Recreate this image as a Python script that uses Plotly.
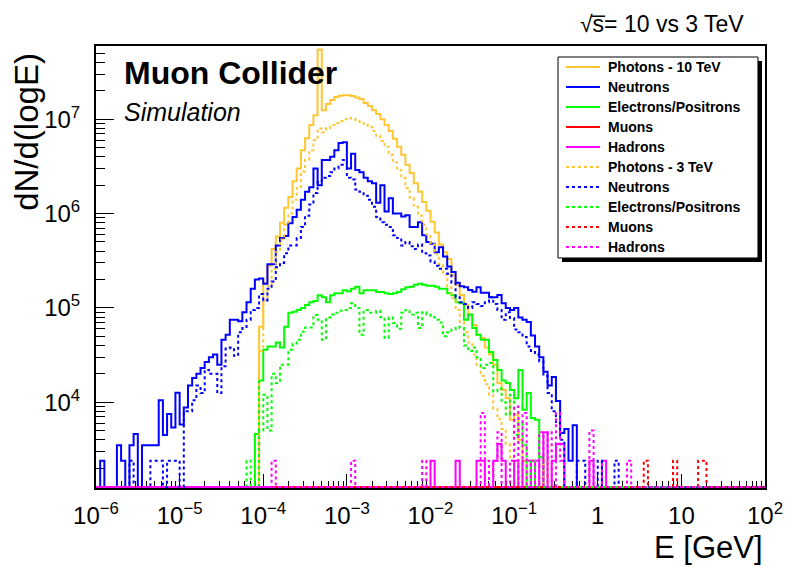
import numpy as np
import plotly.graph_objects as go

# histogram binning: 20 bins per decade, 1e-6 .. 1e2 GeV
N_BINS = 160
edges = np.logspace(-6, 2, N_BINS + 1)

# ---- 10 TeV (solid) ----
photons_10_first = 39
photons_10 = [6.3e4, 1.85e5, 2.8e5, 4.2e5, 5.7e5, 8.0e5, 1.15e6, 1.5e6, 2.2e6, 3.0e6,
              4.7e6, 6.3e6, 8.7e6, 1.1e7, 5.5e7, 1.25e7, 1.45e7, 1.6e7, 1.72e7, 1.78e7,
              1.8e7, 1.8e7, 1.76e7, 1.7e7, 1.64e7, 1.49e7, 1.38e7, 1.25e7, 1.14e7, 1.0e7,
              8.7e6, 7.5e6, 6.2e6, 5.1e6, 4.2e6, 3.3e6, 2.7e6, 2.1e6, 1.7e6, 1.33e6,
              1.07e6, 8.2e5, 6.3e5, 4.7e5, 3.9e5, 3.3e5, 2.2e5, 1.75e5, 1.37e5, 1.08e5,
              8.5e4, 6.6e4, 5.2e4, 4.8e4, 3.8e4, 3.2e4, 2.5e4, 1.6e4, 1.35e4, 1.1e4,
              6.5e3, 7.4e3, 4.0e3, 2.4e3, 0, 2.4e3]

neutrons_10_first = 1
neutrons_10 = [2.4e3, 0, 0, 0, 3.5e3, 2.4e3, 0, 3.5e3, 4.6e3, 0,
               3.5e3, 3.5e3, 3.5e3, 3.5e3, 1.05e4, 4.5e3, 7.5e3, 5.4e3, 1.26e4, 5.8e3,
               8.8e3, 1.5e4, 1.8e4, 2.0e4, 2.3e4, 2.66e4, 3.0e4, 3.2e4, 2.5e4, 4.6e4,
               5.2e4, 7.5e4, 7.5e4, 7.2e4, 9.0e4, 1.15e5, 1.6e5, 2.0e5, 2.05e5, 1.8e5,
               2.9e5, 2.9e5, 4.6e5, 5.5e5, 5.8e5, 7.9e5, 9.2e5, 1.1e6, 1.4e6, 1.7e6,
               1.9e6, 3.0e6, 2.0e6, 3.7e6, 3.7e6, 4.0e6, 4.7e6, 5.6e6, 5.7e6, 3.0e6,
               4.3e6, 2.9e6, 2.75e6, 2.4e6, 2.2e6, 2.1e6, 1.3e6, 2.0e6, 1.05e6, 1.45e6,
               1.0e6, 1.0e6, 9.3e5, 9.6e5, 7.2e5, 7.2e5, 8.1e5, 5.9e5, 5.0e5, 4.8e5,
               3.9e5, 4.4e5, 3.5e5, 2.75e5, 2.4e5, 1.85e5, 1.7e5, 1.65e5, 1.55e5, 1.48e5,
               1.65e5, 1.45e5, 1.45e5, 1.3e5, 1.3e5, 1.37e5, 1.12e5, 1.0e5, 9.5e4, 1.0e5,
               7.9e4, 7.5e4, 7.1e4, 5.1e4, 3.9e4, 3.0e4, 2.1e4, 1.5e4, 1.85e4, 1.03e4,
               4.7e3, 5.2e3, 2.4e3, 5.7e3]

electrons_10_first = 38
electrons_10 = [4.6e3, 1.7e4, 3.6e4, 3.9e4, 3.9e4, 4.3e4, 3.8e4, 6.3e4, 8.9e4, 9.1e4,
                9.5e4, 1.0e5, 1.07e5, 1.15e5, 1.18e5, 1.36e5, 1.3e5, 1.15e5, 1.36e5, 1.43e5,
                1.43e5, 1.54e5, 1.5e5, 1.6e5, 1.68e5, 1.43e5, 1.54e5, 1.54e5, 1.54e5, 1.47e5,
                1.47e5, 1.43e5, 1.4e5, 1.43e5, 1.47e5, 1.58e5, 1.65e5, 1.68e5, 1.76e5, 1.8e5,
                1.76e5, 1.72e5, 1.72e5, 1.68e5, 1.6e5, 1.6e5, 1.43e5, 1.36e5, 1.15e5, 1.12e5,
                7.5e4, 8.5e4, 6.1e4, 5.2e4, 4.6e4, 4.6e4, 3.4e4, 2.8e4, 2.2e4, 1.7e4,
                1.6e4, 1.35e4, 1.1e4, 2.2e4, 8.3e3, 1.25e4, 6.8e3, 6.5e3, 2.6e3]

muons_10_bins = []
muons_10_counts = []

hadrons_10_bins = [80, 86, 91, 92, 95, 96, 97, 100, 102, 103, 105, 107, 109, 110, 111, 118, 121]
hadrons_10_counts = [2.4e3, 2.4e3, 2.4e3, 2.4e3, 2.4e3, 3.6e3, 2.4e3, 2.4e3, 2.4e3, 2.4e3,
                     2.4e3, 4.8e3, 2.4e3, 3.6e3, 3.6e3, 2.4e3, 2.4e3]

# ---- 3 TeV (dotted) ----
photons_3_first = 39
photons_3 = [3.5e4, 1.2e5, 1.7e5, 2.6e5, 3.9e5, 5.3e5, 7.6e5, 1.0e6, 1.4e6, 1.87e6,
             2.8e6, 3.7e6, 4.7e6, 6.0e6, 8.0e6, 7.3e6, 8.1e6, 8.7e6, 9.1e6, 9.6e6,
             1.0e7, 1.03e7, 1.02e7, 9.8e6, 9.4e6, 8.7e6, 8.3e6, 7.5e6, 6.7e6, 5.9e6,
             5.1e6, 4.2e6, 3.5e6, 2.9e6, 2.4e6, 1.87e6, 1.47e6, 1.18e6, 9.5e5, 7.6e5,
             6.0e5, 4.7e5, 3.7e5, 2.9e5, 2.25e5, 1.65e5, 1.27e5, 9.5e4, 7.1e4, 5.5e4,
             4.3e4, 3.2e4, 2.5e4, 1.9e4, 1.55e4, 1.2e4, 8.5e3, 6.6e3, 5.2e3, 3.6e3,
             2.4e3, 5.0e3, 0, 2.4e3, 0, 0, 0, 0, 2.4e3]

neutrons_3_first = 8
neutrons_3 = [2.4e3, 0, 0, 0, 0, 2.4e3, 2.4e3, 2.4e3, 0, 2.4e3,
              2.4e3, 2.4e3, 0, 8.0e3, 8.0e3, 1.05e4, 1.5e4, 1.25e4, 2.2e4, 2.0e4,
              2.0e4, 1.25e4, 2.4e4, 3.7e4, 3.8e4, 3.1e4, 5.5e4, 6.1e4, 7.5e4, 9.5e4,
              1.0e5, 1.4e5, 1.2e5, 1.6e5, 1.9e5, 2.7e5, 3.0e5, 3.8e5, 4.6e5, 4.6e5,
              5.5e5, 7.2e5, 9.5e5, 1.25e6, 1.65e6, 2.15e6, 2.4e6, 2.5e6, 2.75e6, 3.0e6,
              3.3e6, 3.7e6, 2.4e6, 2.3e6, 1.8e6, 1.7e6, 1.55e6, 1.4e6, 1.18e6, 9.2e5,
              8.1e5, 7.6e5, 7.2e5, 5.9e5, 5.5e5, 4.6e5, 5.0e5, 4.5e5, 4.2e5, 4.7e5,
              3.8e5, 3.6e5, 3.1e5, 2.8e5, 2.6e5, 2.6e5, 2.3e5, 1.85e5, 1.3e5, 1.15e5,
              1.1e5, 1.0e5, 1.15e5, 1.1e5, 1.05e5, 1.15e5, 1.3e5, 1.1e5, 9.5e4, 7.5e4,
              9.0e4, 7.8e4, 5.9e4, 5.5e4, 4.9e4, 3.9e4, 3.5e4, 3.2e4, 2.7e4, 1.9e4,
              1.25e4, 8.0e3, 6.0e3, 4.0e3, 0, 0, 0, 2.4e3, 2.4e3, 0,
              0, 0, 2.4e3, 0, 0, 0, 2.4e3]

electrons_3_first = 36
electrons_3 = [2.4e3, 0, 0, 5.0e3, 1.2e4, 5.0e3, 2.0e4, 1.6e4, 2.5e4, 2.5e4,
               3.6e4, 4.2e4, 4.6e4, 5.6e4, 6.2e4, 6.2e4, 8.4e4, 7.5e4, 4.6e4, 7.9e4,
               8.5e4, 8.9e4, 9.3e4, 9.5e4, 1.0e5, 1.12e5, 1.0e5, 5.2e4, 9.5e4, 8.9e4,
               8.9e4, 9.3e4, 8.0e4, 4.8e4, 7.9e4, 6.9e4, 6.0e4, 8.9e4, 9.5e4, 8.5e4,
               8.9e4, 6.1e4, 9.0e4, 8.5e4, 8.0e4, 7.5e4, 7.0e4, 5.0e4, 5.5e4, 5.9e4,
               6.3e4, 6.1e4, 4.0e4, 3.5e4, 3.8e4, 3.0e4, 2.3e4, 2.5e4, 2.6e4, 1.3e4,
               1.4e4, 1.0e4, 7.4e3, 1.2e4, 4.5e3, 6.0e3, 3.5e3, 0, 2.4e3]

muons_3_bins = [131, 138, 144, 145]
muons_3_counts = [2.4e3, 2.4e3, 2.4e3, 2.4e3]

hadrons_3_bins = [42, 61, 78, 92, 93, 95, 96, 99, 100, 102, 104, 106, 108, 110, 111, 118, 127]
hadrons_3_counts = [2.4e3, 2.4e3, 2.4e3, 7.7e3, 2.4e3, 2.4e3, 4.8e3, 2.4e3, 9.0e3, 7.7e3,
                    2.4e3, 4.8e3, 4.8e3, 7.7e3, 2.4e3, 5.0e3, 2.4e3]

Y_MIN_LOG = 3.09
Y_MAX_LOG = 7.777
FONT = "Liberation Sans, Arial, Helvetica, sans-serif"


def dense(first, counts):
    h = np.zeros(N_BINS)
    h[first:first + len(counts)] = counts
    return h


def sparse(bins, counts):
    h = np.zeros(N_BINS)
    h[list(bins)] = counts
    return h


series = [
    ("Photons - 10 TeV", dense(photons_10_first, photons_10), "#ffc633", "solid"),
    ("Neutrons", dense(neutrons_10_first, neutrons_10), "#0000ff", "solid"),
    ("Electrons/Positrons", dense(electrons_10_first, electrons_10), "#00ff00", "solid"),
    ("Muons", sparse(muons_10_bins, muons_10_counts), "#ff0000", "solid"),
    ("Hadrons", sparse(hadrons_10_bins, hadrons_10_counts), "#ff00ff", "solid"),
    ("Photons - 3 TeV", dense(photons_3_first, photons_3), "#ffc633", "dot"),
    ("Neutrons", dense(neutrons_3_first, neutrons_3), "#0000ff", "dot"),
    ("Electrons/Positrons", dense(electrons_3_first, electrons_3), "#00ff00", "dot"),
    ("Muons", sparse(muons_3_bins, muons_3_counts), "#ff0000", "dot"),
    ("Hadrons", sparse(hadrons_3_bins, hadrons_3_counts), "#ff00ff", "dot"),
]

# empty bins sit on the bottom edge of the frame, like ROOT draws them
floor = 10 ** (Y_MIN_LOG + 0.01)
fig = go.Figure()
for name, h, color, dash in series:
    y = np.where(h > 0, h, floor)
    fig.add_trace(go.Scatter(
        x=edges, y=np.append(y, y[-1]), name=name, mode="lines", showlegend=False,
        line=dict(color=color, width=2, dash=dash, shape="hv"),
    ))

x_ticks = [10.0 ** e for e in range(-6, 3)]
x_text = ["10<sup>\u22126</sup>", "10<sup>\u22125</sup>", "10<sup>\u22124</sup>", "10<sup>\u22123</sup>",
          "10<sup>\u22122</sup>", "10<sup>\u22121</sup>", "1", "10", "10<sup>2</sup>"]
y_ticks = [1e4, 1e5, 1e6, 1e7]
y_text = ["10<sup>4</sup>", "10<sup>5</sup>", "10<sup>6</sup>", "10<sup>7</sup>"]
x_minor = [k * 10.0 ** e for e in range(-6, 2) for k in range(2, 10)]
y_minor = [k * 10.0 ** e for e in range(3, 8) for k in range(2, 10)]

axis_common = dict(showgrid=False, zeroline=False, showline=True, linecolor="black", linewidth=2,
                   mirror=True, ticks="inside", tickcolor="black", tickwidth=1,
                   tickfont=dict(family=FONT, size=24, color="black"), layer="below traces")

fig.update_xaxes(type="log", range=[-6, 2], tickmode="array", tickvals=x_ticks, ticktext=x_text,
                 ticklen=14, ticklabelstandoff=5,
                 minor=dict(ticks="inside", ticklen=7, tickcolor="black", tickwidth=1,
                            tickmode="array", tickvals=x_minor),
                 **axis_common)
fig.update_yaxes(type="log", range=[Y_MIN_LOG, Y_MAX_LOG], tickmode="array", tickvals=y_ticks,
                 ticktext=y_text, ticklen=18, ticklabelstandoff=9,
                 minor=dict(ticks="inside", ticklen=9, tickcolor="black", tickwidth=1,
                            tickmode="array", tickvals=y_minor),
                 **axis_common)

# hand-drawn ROOT style legend box (with shadow)
LEG_X0, LEG_X1, LEG_Y0, LEG_Y1 = 0.6906, 0.9895, 0.5204, 0.9751
SHADOW_DX, SHADOW_DY = 0.006, 0.009
ROW_Y0, ROW_STEP = 0.9525, 0.04525
shapes = [
    dict(type="rect", xref="paper", yref="paper", x0=LEG_X0 + SHADOW_DX, x1=LEG_X1 + SHADOW_DX,
         y0=LEG_Y0 - SHADOW_DY, y1=LEG_Y1 - SHADOW_DY, fillcolor="black", line=dict(width=0), layer="above"),
    dict(type="rect", xref="paper", yref="paper", x0=LEG_X0, x1=LEG_X1, y0=LEG_Y0, y1=LEG_Y1,
         fillcolor="white", line=dict(color="black", width=1), layer="above"),
]
annotations = []
for k, (name, _, color, dash) in enumerate(series):
    ry = ROW_Y0 - k * ROW_STEP
    shapes.append(dict(type="line", xref="paper", yref="paper", x0=0.7025, x1=0.7534, y0=ry, y1=ry,
                       line=dict(color=color, width=2, dash=dash), layer="above"))
    annotations.append(dict(text="<b>%s</b>" % name, x=0.7625, y=ry, xref="paper", yref="paper",
                            xanchor="left", yanchor="middle", showarrow=False,
                            font=dict(size=14, color="black")))

annotations += [
    dict(text="<b>Muon Collider</b>", x=0.0389, y=0.939, xref="paper", yref="paper",
         xanchor="left", yanchor="middle", showarrow=False, font=dict(size=32)),
    dict(text="<i>Simulation</i>", x=0.0389, y=0.8507, xref="paper", yref="paper",
         xanchor="left", yanchor="middle", showarrow=False, font=dict(size=25)),
    dict(text="\u221as\u0305= 10 vs 3 TeV", x=0.7205, y=1.05, xref="paper", yref="paper",
         xanchor="left", yanchor="middle", showarrow=False, font=dict(size=23)),
    dict(text="dN/d(logE)", x=-0.104, y=0.99, xref="paper", yref="paper",
         xanchor="center", yanchor="top", textangle=-90, showarrow=False, font=dict(size=33)),
    dict(text="E [GeV]", x=1.0, y=-0.1357, xref="paper", yref="paper",
         xanchor="right", yanchor="middle", showarrow=False, font=dict(size=31)),
]

# the page body adds an 8 px margin, so the figure is drawn 8 px smaller
fig.update_layout(
    width=790, height=566,
    margin=dict(l=88, r=33, t=38, b=86),
    plot_bgcolor="white", paper_bgcolor="white",
    font=dict(family=FONT, color="black"),
    showlegend=False,
    shapes=shapes,
    annotations=annotations,
)

fig.write_html("out.html")
